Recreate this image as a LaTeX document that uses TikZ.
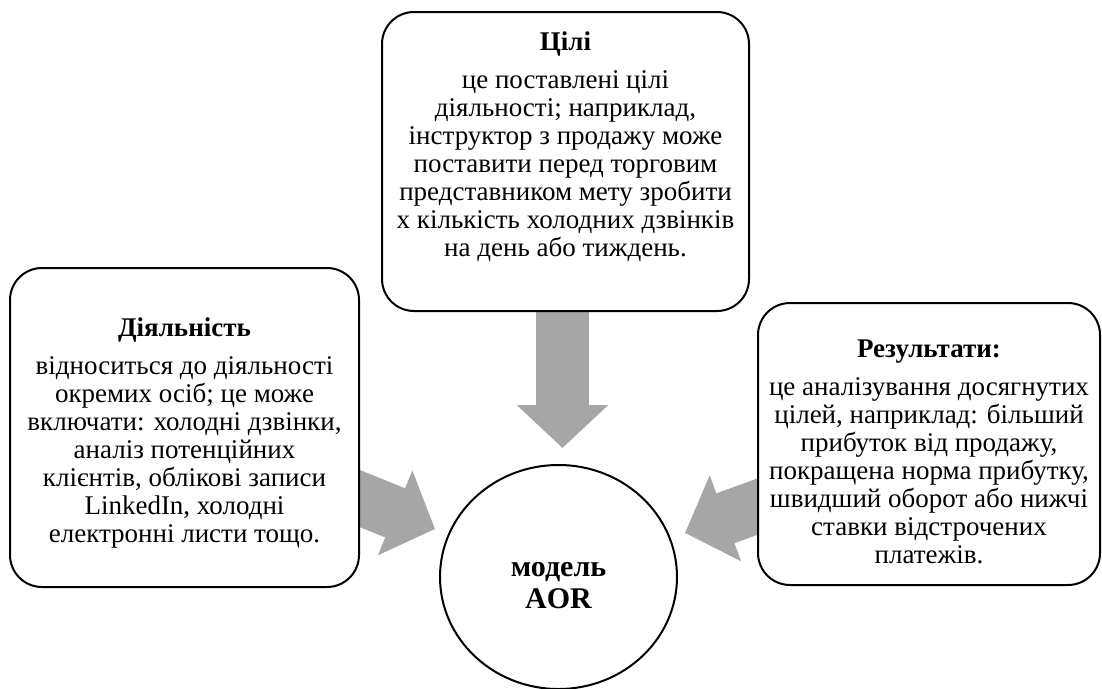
\documentclass[tikz,border=0pt]{standalone}
\usepackage{fontspec}
\setmainfont{Liberation Serif}
\usetikzlibrary{arrows.meta,shapes.geometric}
\pgfdeclarelayer{bg}
\pgfsetlayers{bg,main}
\definecolor{arrowgray}{RGB}{166,166,166}
\begin{document}
\begin{tikzpicture}[x=1pt,y=-1pt,
  box/.style={draw=black, line width=2pt, rounded corners=32pt, fill=white, inner sep=0pt},
  hub/.style={draw=black, line width=2pt, ellipse, fill=white, inner sep=0pt},
  hubtxt/.style={align=center, inner sep=0pt, font=\fontsize{30}{32}\selectfont\bfseries},
  bigarrow/.style={draw=arrowgray, line width=53pt, -{Triangle[width=89pt,length=43pt]}},
  txt/.style={align=center, inner sep=0pt, anchor=north, font=\fontsize{27}{28}\selectfont},
]
\useasboundingbox (0,0) rectangle (1102,688);

\node[box, minimum width=367pt, minimum height=299pt] (goals) at (565.5,161.5) {};
\node[box, minimum width=349pt, minimum height=319pt] (act) at (184.5,427.5) {};
\node[box, minimum width=342pt, minimum height=282pt] (res) at (929,444) {};
\node[hub, minimum width=237pt, minimum height=224pt] (model) at (558.5,577) {};
\node[hubtxt] (modelT) at (558.5,586) {модель\\AOR};

\node[txt] (goalsT) at (565.5,32) {\textbf{Цілі}\\[10pt]
це поставлені цілі\\
діяльності; наприклад,\\
інструктор з продажу може\\
поставити перед торговим\\
представником мету зробити\\
x кількість холодних дзвінків\\
на день або тиждень.};

\node[txt] (actT) at (184.5,318) {\textbf{Діяльність}\\[10pt]
відноситься до діяльності\\
окремих осіб; це може\\
включати: холодні дзвінки,\\
аналіз потенційних\\
клієнтів, облікові записи\\
LinkedIn, холодні\\
електронні листи тощо.};

\node[txt] (resT) at (929,340) {\textbf{Результати:}\\[10pt]
це аналізування досягнутих\\
цілей, наприклад: більший\\
прибуток від продажу,\\
покращена норма прибутку,\\
швидший оборот або нижчі\\
ставки відстрочених\\
платежів.};

\coordinate (tipT) at (562.5,448);
\coordinate (tipL) at (435,529);
\coordinate (tipR) at (685,533);

\begin{pgfonlayer}{bg}
\draw[bigarrow] (goals.center -| tipT) -- (tipT);
\draw[bigarrow] (act.center) -- (tipL);
\draw[bigarrow] (res.center) -- (tipR);
\end{pgfonlayer}
\end{tikzpicture}
\end{document}
